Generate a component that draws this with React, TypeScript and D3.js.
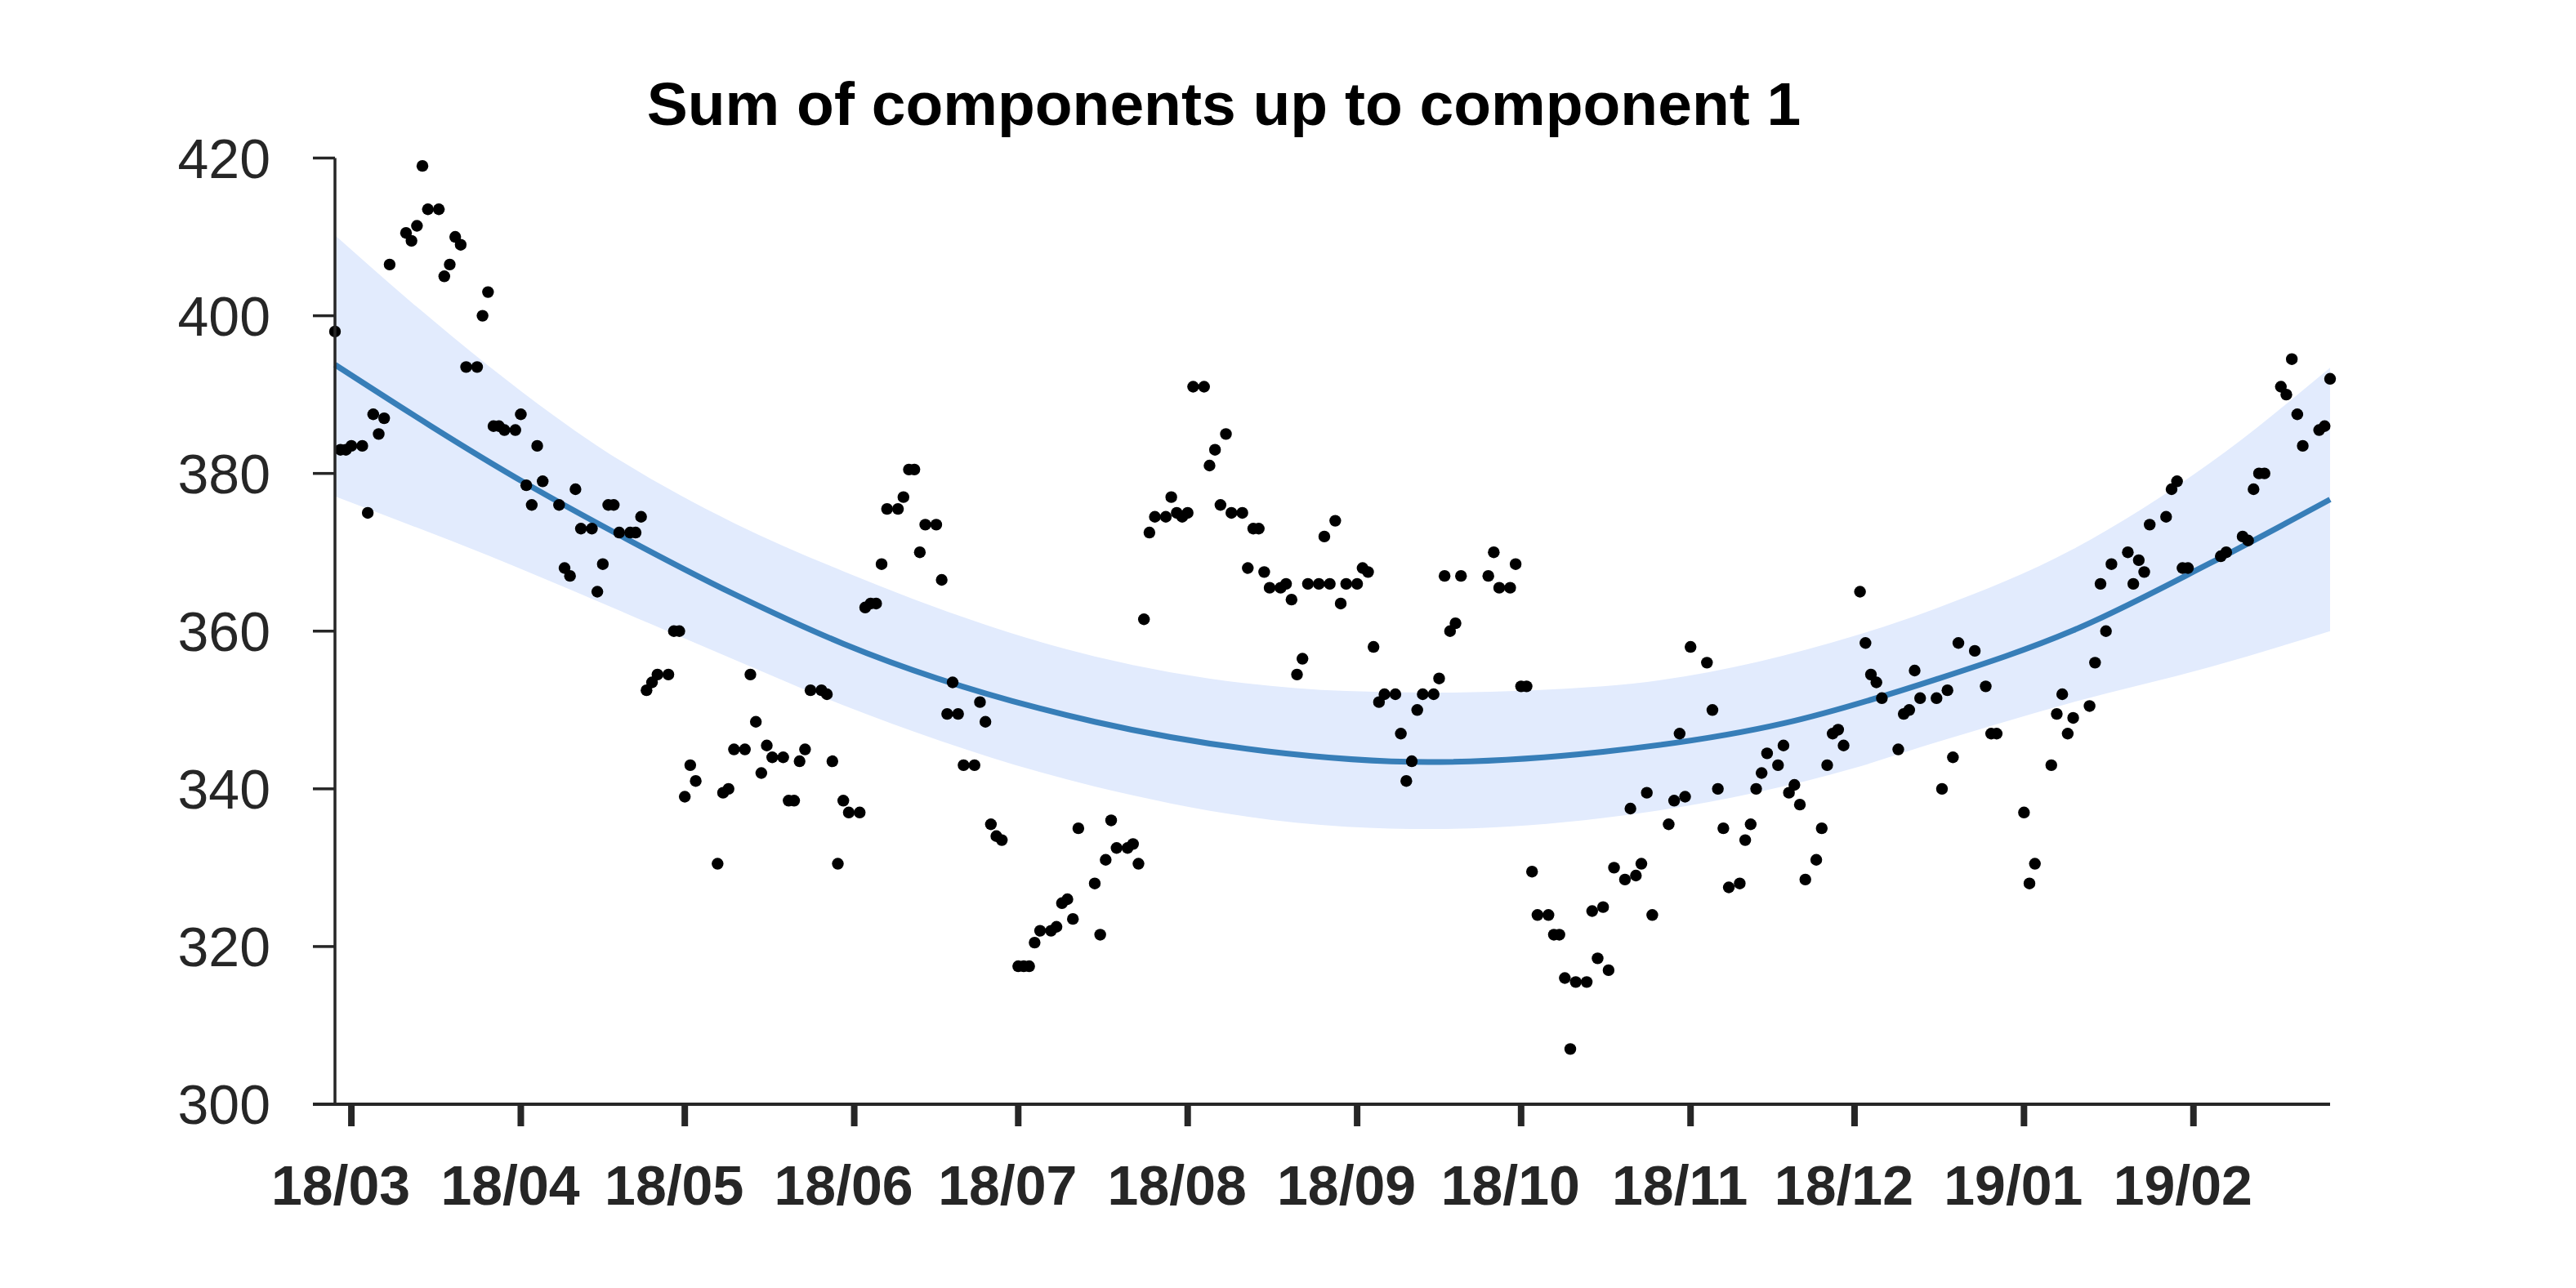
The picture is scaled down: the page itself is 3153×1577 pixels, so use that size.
import React from 'react';
import * as d3 from 'd3';

// ---------- data ----------
const startDate = new Date(2018, 1, 26); // day 0
const lastDay = 365;

const obsDay = [0,1,2,3,5,6,7,8,9,10,13,14,15,16,17,19,20,21,22,23,24,26,27,28,29,30,31,33,34,35,36,37,38,41,42,43,44,45,47,48,49,50,51,52,54,55,56,57,58,59,61,62,63,64,65,66,70,71,72,73,75,76,77,78,79,80,82,83,84,85,86,87,89,90,91,92,93,94,96,97,98,99,100,101,103,104,105,106,107,108,110,111,112,113,114,115,117,118,119,120,121,122,125,126,127,128,129,131,132,133,134,135,136,139,140,141,142,143,145,146,147,148,149,150,152,153,154,155,156,157,159,160,161,162,163,164,166,167,168,169,170,171,173,174,175,176,177,178,180,181,182,183,184,185,187,188,189,190,191,192,194,195,196,197,198,199,201,202,203,204,205,206,211,212,213,215,216,217,218,219,220,222,223,224,225,226,227,229,230,231,232,233,234,236,237,238,239,240,241,244,245,246,247,248,251,252,253,254,255,257,258,259,260,261,262,264,265,266,267,268,269,271,272,273,274,275,276,279,280,281,282,283,286,287,288,289,290,293,294,295,296,297,300,302,303,304,309,310,311,314,315,316,317,318,321,322,323,324,325,328,329,330,331,332,335,336,337,338,339,345,346,349,350,351,352,353,356,357,358,359,360,363,364,365];

const obsValue = [398.0,383.0,383.0,383.5,383.5,375.0,387.5,385.0,387.0,406.5,410.5,409.5,411.4,419.0,413.5,413.5,405.0,406.5,410.0,409.0,393.5,393.5,400.0,403.0,386.0,386.0,385.5,385.5,387.5,378.5,376.0,383.5,379.0,376.0,368.0,367.0,378.0,373.0,373.0,365.0,368.5,376.0,376.0,372.5,372.5,372.5,374.5,352.5,353.5,354.5,354.5,360.0,360.0,339.0,343.0,341.0,330.5,339.5,340.0,345.0,345.0,354.5,348.5,342.0,345.5,344.0,344.0,338.5,338.5,343.5,345.0,352.5,352.5,352.0,343.5,330.5,338.5,337.0,337.0,363.0,363.5,363.5,368.5,375.5,375.5,377.0,380.5,380.5,370.0,373.5,373.5,366.5,349.5,353.5,349.5,343.0,343.0,351.0,348.5,335.5,334.0,333.5,317.5,317.5,317.5,320.5,322.0,322.0,322.5,325.5,326.0,323.5,335.0,328.0,321.5,331.0,336.0,332.5,332.5,333.0,330.5,361.5,372.5,374.5,374.5,377.0,375.0,374.5,375.0,391.0,391.0,381.0,383.0,376.0,385.0,375.0,375.0,368.0,373.0,373.0,367.5,365.5,365.5,366.0,364.0,354.5,356.5,366.0,366.0,372.0,366.0,374.0,363.5,366.0,366.0,368.0,367.5,358.0,351.0,352.0,352.0,347.0,341.0,343.5,350.0,352.0,352.0,354.0,367.0,360.0,361.0,367.0,367.0,370.0,365.5,365.5,368.5,353.0,353.0,329.5,324.0,324.0,321.5,321.5,316.0,307.0,315.5,315.5,324.5,318.5,325.0,317.0,330.0,328.5,337.5,329.0,330.5,339.5,324.0,335.5,338.5,347.0,339.0,358.0,356.0,350.0,340.0,335.0,327.5,328.0,333.5,335.5,340.0,342.0,344.5,343.0,345.5,339.5,340.5,338.0,328.5,331.0,335.0,343.0,347.0,347.5,345.5,365.0,358.5,354.5,353.5,351.5,345.0,349.5,350.0,355.0,351.5,351.5,340.0,352.5,344.0,358.5,357.5,353.0,347.0,347.0,337.0,328.0,330.5,343.0,349.5,352.0,347.0,349.0,350.5,356.0,366.0,360.0,368.5,370.0,366.0,369.0,367.5,373.5,374.5,378.0,379.0,368.0,368.0,369.5,370.0,372.0,371.5,378.0,380.0,380.0,391.0,390.0,394.5,387.5,383.5,385.5,386.0,392.0];

const fitDay = [0, 35, 52, 73, 93, 139, 170, 200, 232, 265, 293, 318, 343, 365];
const fitValue = [393.8, 378.7, 372.2, 364.7, 358.4, 348.5, 344.8, 343.4, 344.7, 348.3, 353.9, 360.1, 368.6, 376.7];

const bandDay = [0, 14, 28, 48, 73, 93, 139, 185, 201, 232, 278, 293, 318, 343, 365];
const bandUpper = [410.2, 401.7, 393.7, 383.5, 373.7, 367.6, 356.8, 352.4, 352.2, 353.0, 359.4, 362.9, 370.4, 381.3, 393.4];
const bandLower = [377.1, 373.4, 369.6, 363.8, 356.4, 350.6, 340.3, 335.2, 334.9, 336.3, 342.65, 345.9, 351.0, 355.45, 360.0];

const yTicks = [300, 320, 340, 360, 380, 400, 420];
const titleText = 'Sum of components up to component 1';

// ---------- chart ----------
export default function App() {
  const W = 3153;
  const H = 1577;
  const left = 410;
  const right = 2852;
  const top = 193.5;
  const bottom = 1352;
  const axisColor = '#262626';
  const font = "'Liberation Sans', Arial, Helvetica, sans-serif";

  const dayDate = (d: number) => d3.timeDay.offset(startDate, d);

  const x = d3.scaleTime().domain([dayDate(0), dayDate(lastDay)]).range([left, right]);
  const y = d3.scaleLinear().domain([300, 420]).range([bottom, top]);

  const bandData = bandDay.map((d, i) => ({ d, lo: bandLower[i], hi: bandUpper[i] }));
  const area = d3
    .area<{ d: number; lo: number; hi: number }>()
    .x((p) => x(dayDate(p.d)))
    .y0((p) => y(p.lo))
    .y1((p) => y(p.hi))
    .curve(d3.curveMonotoneX);

  const fitData = fitDay.map((d, i) => ({ d, v: fitValue[i] }));
  const line = d3
    .line<{ d: number; v: number }>()
    .x((p) => x(dayDate(p.d)))
    .y((p) => y(p.v))
    .curve(d3.curveMonotoneX);

  const xTicks = x.ticks(d3.timeMonth.every(1) as d3.TimeInterval);
  const fmt = d3.timeFormat('%y/%m');

  return (
    <svg
      width={W}
      height={H}
      viewBox={`0 0 ${W} ${H}`}
      style={{ position: 'absolute', left: 0, top: 0, background: '#ffffff' }}
    >
      <rect x={0} y={0} width={W} height={H} fill="#ffffff" />
      <text
        x={1498}
        y={153}
        textAnchor="middle"
        fontFamily={font}
        fontWeight="bold"
        fontSize={75}
        fill="#000000"
      >
        {titleText}
      </text>

      <path d={area(bandData) || ''} fill="#e2ebfd" stroke="none" />
      <path d={line(fitData) || ''} fill="none" stroke="#377eb8" strokeWidth={7} />

      {obsDay.map((d, i) => (
        <circle key={i} cx={x(dayDate(d))} cy={y(obsValue[i])} r={7.2} fill="#000000" />
      ))}

      {/* y axis */}
      <line x1={left} x2={left} y1={top} y2={bottom} stroke={axisColor} strokeWidth={3.5} />
      {yTicks.map((t) => (
        <g key={t}>
          <line x1={left - 27} x2={left} y1={y(t)} y2={y(t)} stroke={axisColor} strokeWidth={3.5} />
          <text
            x={331}
            y={y(t)}
            dy="0.36em"
            textAnchor="end"
            fontFamily={font}
            fontSize={68}
            fill={axisColor}
          >
            {t}
          </text>
        </g>
      ))}

      {/* x axis */}
      <line x1={left - 27} x2={right} y1={bottom} y2={bottom} stroke={axisColor} strokeWidth={4} />
      {xTicks.map((t, i) => (
        <g key={i}>
          <line x1={x(t)} x2={x(t)} y1={bottom} y2={bottom + 27} stroke={axisColor} strokeWidth={8} />
          <text
            x={x(t) - 13}
            y={1475}
            textAnchor="middle"
            fontFamily={font}
            fontWeight="bold"
            fontSize={68}
            fill={axisColor}
          >
            {fmt(t)}
          </text>
        </g>
      ))}
    </svg>
  );
}
